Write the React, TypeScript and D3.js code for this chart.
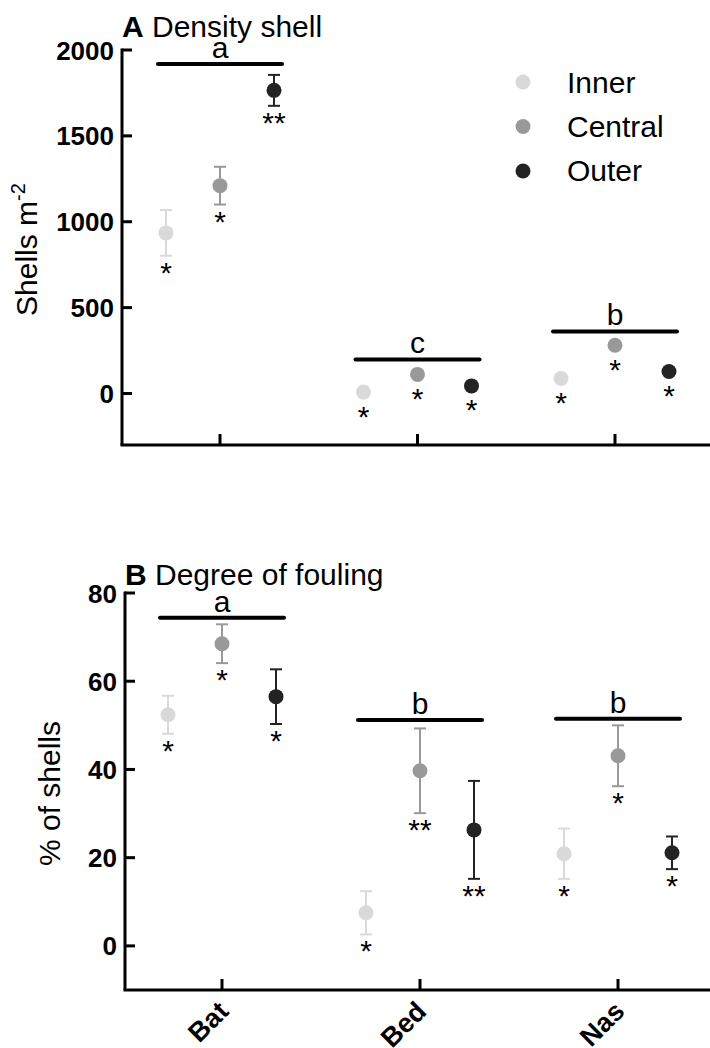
import React from "react";
import * as d3 from "d3";

const sites = ["Bat", "Bed", "Nas"];
const zones = ["Inner", "Central", "Outer"];
const zoneColors = ["#d9d9d9", "#999999", "#232323"];

// Panel A: density of shells (shells m-2)
const densityInner = [935, 8, 87];
const densityCentral = [1210, 111, 281];
const densityOuter = [1765, 44, 128];
const densityInnerSE = [133, 6, 10];
const densityCentralSE = [110, 12, 18];
const densityOuterSE = [90, 8, 14];
const densityInnerStars = ["*", "*", "*"];
const densityCentralStars = ["*", "*", "*"];
const densityOuterStars = ["**", "*", "*"];
const densityLetters = ["a", "c", "b"];
const densityLetterLevels = [1918, 198, 361];
const densityTicks = [0, 500, 1000, 1500, 2000];

// Panel B: degree of fouling (% of shells)
const foulingInner = [52.4, 7.5, 20.9];
const foulingCentral = [68.5, 39.7, 43.1];
const foulingOuter = [56.5, 26.3, 21.1];
const foulingInnerSE = [4.3, 4.9, 5.7];
const foulingCentralSE = [4.4, 9.6, 6.9];
const foulingOuterSE = [6.2, 11.1, 3.7];
const foulingInnerStars = ["*", "*", "*"];
const foulingCentralStars = ["*", "**", "*"];
const foulingOuterStars = ["*", "**", "*"];
const foulingLetters = ["a", "b", "b"];
const foulingLetterLevels = [74.4, 51.2, 51.5];
const foulingTicks = [0, 20, 40, 60, 80];

const FONT = "'Liberation Sans', Arial, Helvetica, sans-serif";

type Cfg = {
  left: number;
  top: number;
  bottom: number;
  right: number;
  xRange: [number, number];
  yDomain: [number, number];
  letter: string;
  title: string;
  titleBaseline: number;
  yTitleX: number;
  yTitle: React.ReactNode;
};

function Panel(props: {
  cfg: Cfg;
  means: number[][];
  ses: number[][];
  stars: string[][];
  letters: string[];
  levels: number[];
  ticks: number[];
}) {
  const { cfg, means, ses, stars, letters, levels, ticks } = props;
  const y = d3.scaleLinear().domain(cfg.yDomain).range([cfg.bottom, cfg.top]);
  const x = d3.scalePoint<string>().domain(sites).range(cfg.xRange);
  const off = d3.scalePoint<string>().domain(zones).range([-54, 54]);
  const r = 7.5;
  const cap = 6;

  return (
    <g>
      {/* title */}
      <text x={cfg.left} y={cfg.titleBaseline} fontFamily={FONT} fontSize={30}>
        <tspan fontWeight="bold">{cfg.letter}</tspan>
        <tspan> {cfg.title}</tspan>
      </text>
      {/* y axis title */}
      <text
        transform={`translate(${cfg.yTitleX},${(cfg.top + cfg.bottom) / 2 + 2}) rotate(-90)`}
        textAnchor="middle"
        fontFamily={FONT}
        fontSize={30}
      >
        {cfg.yTitle}
      </text>
      {/* axes */}
      <line x1={cfg.left} x2={cfg.left} y1={cfg.top - 1.5} y2={cfg.bottom} stroke="#000" strokeWidth={3} />
      <line x1={cfg.left - 1.5} x2={cfg.right} y1={cfg.bottom} y2={cfg.bottom} stroke="#000" strokeWidth={3} />
      {ticks.map((t) => (
        <g key={t}>
          <line x1={cfg.left} x2={cfg.left + 10} y1={y(t)} y2={y(t)} stroke="#000" strokeWidth={3} />
          <text
            x={cfg.left - 8}
            y={y(t) + 9.5}
            textAnchor="end"
            fontFamily={FONT}
            fontWeight="bold"
            fontSize={26}
          >
            {t}
          </text>
        </g>
      ))}
      {sites.map((s) => (
        <line key={s} x1={x(s)} x2={x(s)} y1={cfg.bottom} y2={cfg.bottom - 11} stroke="#000" strokeWidth={3} />
      ))}
      {/* significance bars */}
      {sites.map((s, i) => (
        <g key={"sig" + s}>
          <line
            x1={(x(s) as number) - 62}
            x2={(x(s) as number) + 62}
            y1={y(levels[i])}
            y2={y(levels[i])}
            stroke="#000"
            strokeWidth={4}
            strokeLinecap="round"
          />
          <text
            x={x(s)}
            y={y(levels[i]) - 6}
            textAnchor="middle"
            fontFamily={FONT}
            fontSize={30}
          >
            {letters[i]}
          </text>
        </g>
      ))}
      {/* points */}
      {zones.map((z, zi) =>
        sites.map((s, si) => {
          const cx = (x(s) as number) + (off(z) as number);
          const m = means[zi][si];
          const e = ses[zi][si];
          const cy = y(m);
          const yt = y(m + e);
          const yb = y(m - e);
          const starY = Math.max(yb, cy + r) + 10 + 17;
          const col = zoneColors[zi];
          return (
            <g key={z + s}>
              <line x1={cx} x2={cx} y1={yt} y2={yb} stroke={col} strokeWidth={2} />
              <line x1={cx - cap} x2={cx + cap} y1={yt} y2={yt} stroke={col} strokeWidth={2} />
              <line x1={cx - cap} x2={cx + cap} y1={yb} y2={yb} stroke={col} strokeWidth={2} />
              <circle cx={cx} cy={cy} r={r} fill={col} />
              <text x={cx} y={starY} textAnchor="middle" fontFamily={FONT} fontSize={30}>
                {stars[zi][si]}
              </text>
            </g>
          );
        })
      )}
    </g>
  );
}

export default function App() {
  const cfgA: Cfg = {
    left: 122,
    top: 50,
    bottom: 445,
    right: 710,
    xRange: [220, 615],
    yDomain: [-300, 2000],
    letter: "A",
    title: "Density shell",
    titleBaseline: 37,
    yTitleX: 37,
    yTitle: (
      <>
        <tspan>Shells m</tspan>
        <tspan fontSize={20} dy={-12}>-2</tspan>
      </>
    ),
  };
  const cfgB: Cfg = {
    left: 125,
    top: 593,
    bottom: 990,
    right: 710,
    xRange: [222, 618],
    yDomain: [-10, 80],
    letter: "B",
    title: "Degree of fouling",
    titleBaseline: 585,
    yTitleX: 60,
    yTitle: <tspan>% of shells</tspan>,
  };
  const xB = d3.scalePoint<string>().domain(sites).range(cfgB.xRange);

  return (
    <div style={{ position: "absolute", left: 0, top: 0 }}>
      <svg width={710} height={1048} style={{ display: "block", background: "#fff" }}>
        <Panel
          cfg={cfgA}
          means={[densityInner, densityCentral, densityOuter]}
          ses={[densityInnerSE, densityCentralSE, densityOuterSE]}
          stars={[densityInnerStars, densityCentralStars, densityOuterStars]}
          letters={densityLetters}
          levels={densityLetterLevels}
          ticks={densityTicks}
        />
        <Panel
          cfg={cfgB}
          means={[foulingInner, foulingCentral, foulingOuter]}
          ses={[foulingInnerSE, foulingCentralSE, foulingOuterSE]}
          stars={[foulingInnerStars, foulingCentralStars, foulingOuterStars]}
          letters={foulingLetters}
          levels={foulingLetterLevels}
          ticks={foulingTicks}
        />
        {/* legend */}
        {zones.map((z, i) => (
          <g key={"lg" + z}>
            <circle cx={523} cy={82 + i * 44.5} r={7.5} fill={zoneColors[i]} />
            <text x={567} y={93 + i * 44} fontFamily={FONT} fontSize={30}>
              {z}
            </text>
          </g>
        ))}
        {/* x category labels */}
        {sites.map((s) => (
          <text
            key={"xl" + s}
            transform={`translate(${(xB(s) as number) + 8},${1013}) rotate(-45)`}
            textAnchor="end"
            fontFamily={FONT}
            fontWeight="bold"
            fontSize={27}
          >
            {s}
          </text>
        ))}
      </svg>
    </div>
  );
}
